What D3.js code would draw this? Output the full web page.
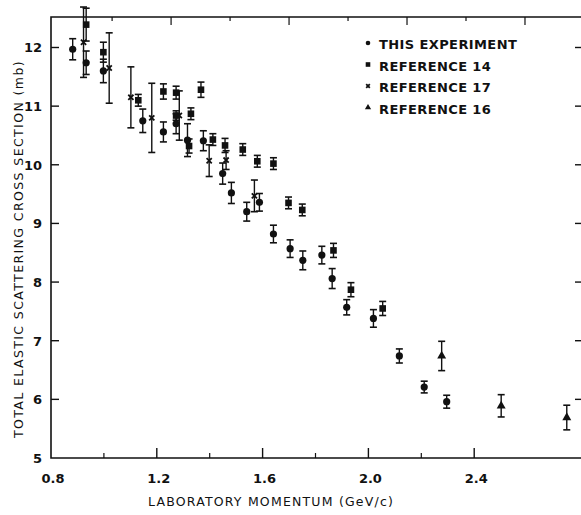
<!DOCTYPE html>
<html>
<head>
<meta charset="utf-8">
<script src="https://cdn.jsdelivr.net/npm/d3@7"></script>
<style>
  body { margin: 0; background: #fff; }
  svg { display: block; }
  text { font-family: "DejaVu Sans", sans-serif; fill: #111; }
</style>
</head>
<body>
<div id="chart"></div>
<script>
// --- Data: [momentum GeV/c, cross section mb, error mb] ---
const thisExperiment = [
    [0.882, 11.97, 0.18], [0.933, 11.74, 0.20], [0.998, 11.60, 0.20],
    [1.147, 10.75, 0.20], [1.225, 10.56, 0.17], [1.273, 10.70, 0.17],
    [1.316, 10.42, 0.28], [1.376, 10.41, 0.17], [1.449, 9.85, 0.18],
    [1.482, 9.52, 0.18], [1.540, 9.20, 0.16], [1.588, 9.36, 0.15],
    [1.641, 8.82, 0.15], [1.704, 8.57, 0.15], [1.752, 8.37, 0.16],
    [1.824, 8.46, 0.15], [1.863, 8.06, 0.17], [1.918, 7.57, 0.13],
    [2.019, 7.38, 0.15], [2.117, 6.74, 0.12], [2.211, 6.21, 0.10],
    [2.296, 5.96, 0.11]
];
const reference14 = [
    [0.933, 12.39, 0.28], [0.998, 11.92, 0.17], [1.130, 11.10, 0.10],
    [1.225, 11.25, 0.13], [1.273, 11.23, 0.11], [1.273, 10.84, 0.08],
    [1.322, 10.32, 0.12], [1.329, 10.87, 0.10], [1.367, 11.28, 0.13],
    [1.412, 10.43, 0.10], [1.458, 10.33, 0.12], [1.525, 10.26, 0.10],
    [1.580, 10.06, 0.10], [1.641, 10.02, 0.10], [1.698, 9.35, 0.10],
    [1.750, 9.23, 0.10], [1.868, 8.54, 0.12], [1.934, 7.87, 0.12],
    [2.054, 7.55, 0.12]
];
const reference17 = [
    [0.923, 12.09, 0.60], [1.020, 11.65, 0.60], [1.102, 11.15, 0.52],
    [1.181, 10.80, 0.59], [1.285, 10.84, 0.42], [1.398, 10.07, 0.27],
    [1.462, 10.08, 0.16], [1.569, 9.47, 0.27]
];
const reference16 = [
    [2.277, 6.74, 0.25], [2.502, 5.89, 0.19], [2.750, 5.69, 0.21]
];

const xMajorTicks = [0.8, 1.2, 1.6, 2.0, 2.4];
const xMinorTicks = [1.0, 1.4, 1.8, 2.2];
const yTicks = [5, 6, 7, 8, 9, 10, 11, 12];
// top frame ticks (a second scale in the original, placed in momentum units)
const topTicks = [1.031, 1.254, 1.477, 1.700, 1.923, 2.146, 2.369, 2.592];

const legendItems = [
    { label: "THIS EXPERIMENT", type: "circle" },
    { label: "REFERENCE 14", type: "square" },
    { label: "REFERENCE 17", type: "cross" },
    { label: "REFERENCE 16", type: "triangle" }
];

const width = 581, height = 515;
const margin = { top: 17, right: 1, bottom: 57, left: 51 };

const svg = d3.select("#chart").append("svg")
    .attr("width", width)
    .attr("height", height);

const x = d3.scaleLinear().domain([0.8, 2.8]).range([margin.left, 580]);
const y = d3.scaleLinear().domain([5, 12.52]).range([height - margin.bottom, margin.top]);

const x0 = x(0.8), x1 = x(2.8) + 3, yb = y(5), yt = y(12.52);

// Frame
svg.append("path")
    .attr("d", `M${x1},${yt}H${x0}V${yb}H${x1}`)
    .attr("fill", "none")
    .attr("stroke", "#111")
    .attr("stroke-width", 1.6);

// Bottom ticks (inward)
svg.append("g").selectAll("line")
    .data(xMajorTicks.slice(1))
    .join("line")
    .attr("x1", d => x(d)).attr("x2", d => x(d))
    .attr("y1", yb).attr("y2", yb - 10)
    .attr("stroke", "#111").attr("stroke-width", 1.4);

svg.append("g").selectAll("line")
    .data(xMinorTicks)
    .join("line")
    .attr("x1", d => x(d)).attr("x2", d => x(d))
    .attr("y1", yb).attr("y2", yb - 5)
    .attr("stroke", "#111").attr("stroke-width", 1.2);

svg.append("g").selectAll("text")
    .data(xMajorTicks)
    .join("text")
    .attr("x", d => x(d) + 2)
    .attr("y", yb + 25)
    .attr("text-anchor", "middle")
    .attr("font-size", 13)
    .attr("font-weight", "bold")
    .text(d => d.toFixed(1));

// Top ticks (inward, alternating length)
svg.append("g").selectAll("line")
    .data(topTicks)
    .join("line")
    .attr("x1", d => x(d)).attr("x2", d => x(d))
    .attr("y1", yt).attr("y2", (d, i) => yt + (i % 2 ? 8 : 4))
    .attr("stroke", "#111").attr("stroke-width", 1.2);

// Left ticks
svg.append("g").selectAll("line")
    .data(yTicks.slice(1))
    .join("line")
    .attr("x1", x0).attr("x2", x0 + 8)
    .attr("y1", d => y(d)).attr("y2", d => y(d))
    .attr("stroke", "#111").attr("stroke-width", 1.4);

// Right ticks
svg.append("g").selectAll("line")
    .data(yTicks.slice(1))
    .join("line")
    .attr("x1", x1).attr("x2", x1 - 8)
    .attr("y1", d => y(d)).attr("y2", d => y(d))
    .attr("stroke", "#111").attr("stroke-width", 1.4);

svg.append("g").selectAll("text")
    .data(yTicks)
    .join("text")
    .attr("x", x0 - 9)
    .attr("y", d => y(d) + 5)
    .attr("text-anchor", "end")
    .attr("font-size", 13)
    .attr("font-weight", "bold")
    .text(d => d);

// Axis titles
svg.append("text")
    .attr("x", 271)
    .attr("y", 506)
    .attr("text-anchor", "middle")
    .attr("font-size", 12.5)
    .attr("letter-spacing", 1.2)
    .text("LABORATORY MOMENTUM (GeV/c)");

svg.append("text")
    .attr("transform", `translate(23,${(yb + 40) / 2}) rotate(-90)`)
    .attr("text-anchor", "middle")
    .attr("font-size", 12.5)
    .attr("letter-spacing", 1.4)
    .text("TOTAL ELASTIC SCATTERING CROSS SECTION (mb)");

// --- Markers ---
function drawMarker(g, type, size) {
    if (type === "circle") {
        g.append("circle").attr("r", size).attr("fill", "#111");
    } else if (type === "square") {
        g.append("rect")
            .attr("x", -size).attr("y", -size)
            .attr("width", size * 2).attr("height", size * 2)
            .attr("fill", "#111");
    } else if (type === "cross") {
        g.append("path")
            .attr("d", `M${-size},${-size}L${size},${size}M${-size},${size}L${size},${-size}`)
            .attr("stroke", "#111").attr("stroke-width", 1.8);
    } else {
        g.append("path")
            .attr("d", d3.symbol(d3.symbolTriangle, size * size * 3.2)())
            .attr("fill", "#111");
    }
}

function drawSeries(data, type, size) {
    const grp = svg.append("g").selectAll("g")
        .data(data)
        .join("g")
        .attr("transform", d => `translate(${x(d[0])},0)`);

    grp.append("line")
        .attr("y1", d => y(d[1] + d[2]))
        .attr("y2", d => y(d[1] - d[2]))
        .attr("stroke", "#111").attr("stroke-width", 1.4);
    grp.append("line")
        .attr("x1", -3.5).attr("x2", 3.5)
        .attr("y1", d => y(d[1] + d[2])).attr("y2", d => y(d[1] + d[2]))
        .attr("stroke", "#111").attr("stroke-width", 1.6);
    grp.append("line")
        .attr("x1", -3.5).attr("x2", 3.5)
        .attr("y1", d => y(d[1] - d[2])).attr("y2", d => y(d[1] - d[2]))
        .attr("stroke", "#111").attr("stroke-width", 1.6);

    grp.each(function (d) {
        const m = d3.select(this).append("g")
            .attr("transform", `translate(0,${y(d[1])})`);
        drawMarker(m, type, size);
    });
}

drawSeries(reference17, "cross", 2.6);
drawSeries(reference14, "square", 3.3);
drawSeries(thisExperiment, "circle", 3.6);
drawSeries(reference16, "triangle", 3.3);

// --- Legend ---
const legend = svg.append("g")
    .selectAll("g")
    .data(legendItems)
    .join("g")
    .attr("transform", (d, i) => `translate(368,${44 + i * 21.5})`);

legend.each(function (d) {
    const m = d3.select(this).append("g").attr("transform", "translate(0,-1)");
    drawMarker(m, d.type, d.type === "cross" ? 1.8 : 2.3);
});

legend.append("text")
    .attr("x", 11)
    .attr("y", 5)
    .attr("font-size", 13)
    .attr("font-weight", "bold")
    .attr("letter-spacing", 0.4)
    .text(d => d.label);
</script>
</body>
</html>
